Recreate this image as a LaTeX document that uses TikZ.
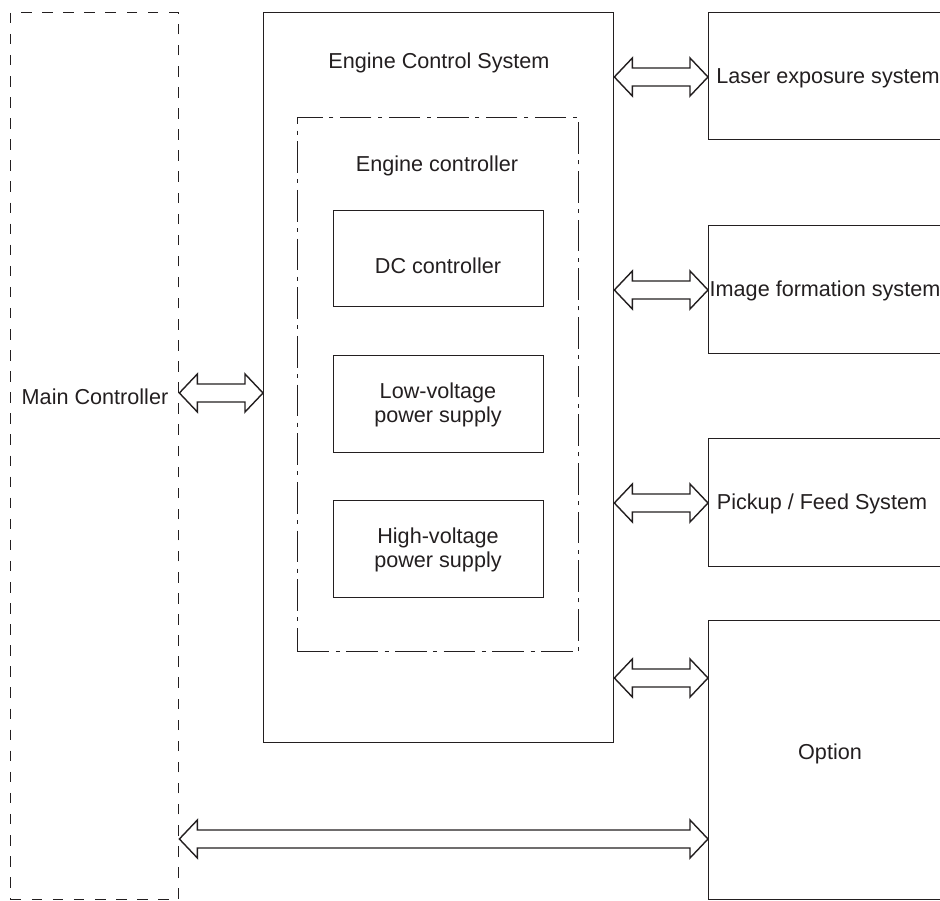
\documentclass[tikz,border=0pt]{standalone}
\usepackage{fontspec}
\setmainfont{Liberation Sans}
\usetikzlibrary{calc}
\definecolor{ink}{RGB}{35,31,32}

\tikzset{
  box/.style={draw=ink, line width=0.8pt, rectangle, anchor=north west, inner sep=0pt},
  txt/.style={text=ink, font=\fontsize{12.3}{13.6}\selectfont, align=center},
  dashbox/.style={box, dash pattern=on 6pt off 6pt},
  dotbox/.style={box, dash pattern=on 18pt off 3.7pt on 2.3pt off 3.7pt},
  busarrow/.style={draw=ink, fill=white, line width=0.8pt, line join=miter}
}
% two-way bus arrow between two points at the same height
\newcommand{\bus}[2]{%
\draw[busarrow] (#1) -- ($(#1)+(18,-19)$) -- ($(#1)+(18,-9)$) -- ($(#2)+(-18,-9)$)
  -- ($(#2)+(-18,-19)$) -- (#2) -- ($(#2)+(-18,19)$) -- ($(#2)+(-18,9)$)
  -- ($(#1)+(18,9)$) -- ($(#1)+(18,19)$) -- cycle;
}

\begin{document}
\begin{tikzpicture}[x=0.02cm, y=-0.02cm]
\useasboundingbox (0,0) rectangle (940,901);

% main controller
\node[dashbox, minimum width=3.36cm, minimum height=17.74cm] (main) at (10,12) {};
\node[txt] (mainlbl) at (95,397) {Main Controller};

% engine control system
\node[box, minimum width=7cm, minimum height=14.6cm] (ecs) at (263,12) {};
\node[txt] (ecslbl) at (439,63) {Engine Control System};
\node[dotbox, minimum width=5.62cm, minimum height=10.68cm] (ec) at (297,117) {};
\node[txt] (eclbl) at (437,166) {Engine controller};
\node[box, minimum width=4.2cm, minimum height=1.92cm] (dc) at (333,210) {};
\node[txt] (dclbl) at (438,266) {DC controller};
\node[box, minimum width=4.2cm, minimum height=1.94cm] (lv) at (333,355) {};
\node[txt] (lvlbl) at (438,405) {Low-voltage\\power supply};
\node[box, minimum width=4.2cm, minimum height=1.94cm] (hv) at (333,500) {};
\node[txt] (hvlbl) at (438,550) {High-voltage\\power supply};

% systems on the right
\node[box, minimum width=4.88cm, minimum height=2.54cm] (laser) at (708,12) {};
\node[txt] (laserlbl) at (828,78) {Laser exposure system};
\node[box, minimum width=4.88cm, minimum height=2.56cm] (image) at (708,225) {};
\node[txt] (imagelbl) at (825,291) {Image formation system};
\node[box, minimum width=4.88cm, minimum height=2.56cm] (pickup) at (708,438) {};
\node[txt] (pickuplbl) at (822,504) {Pickup / Feed System};
\node[box, minimum width=4.88cm, minimum height=5.58cm] (option) at (708,620) {};
\node[txt] (optionlbl) at (830,754) {Option};

% buses
\bus{ecs.east |- 0,77}{laser.west |- 0,77}
\bus{ecs.east |- 0,290}{image.west |- 0,290}
\bus{ecs.east |- 0,503}{pickup.west |- 0,503}
\bus{ecs.east |- 0,678}{option.west |- 0,678}
\bus{main.east |- 0,393}{ecs.west |- 0,393}
\bus{main.east |- 0,839}{option.west |- 0,839}

\end{tikzpicture}
\end{document}
